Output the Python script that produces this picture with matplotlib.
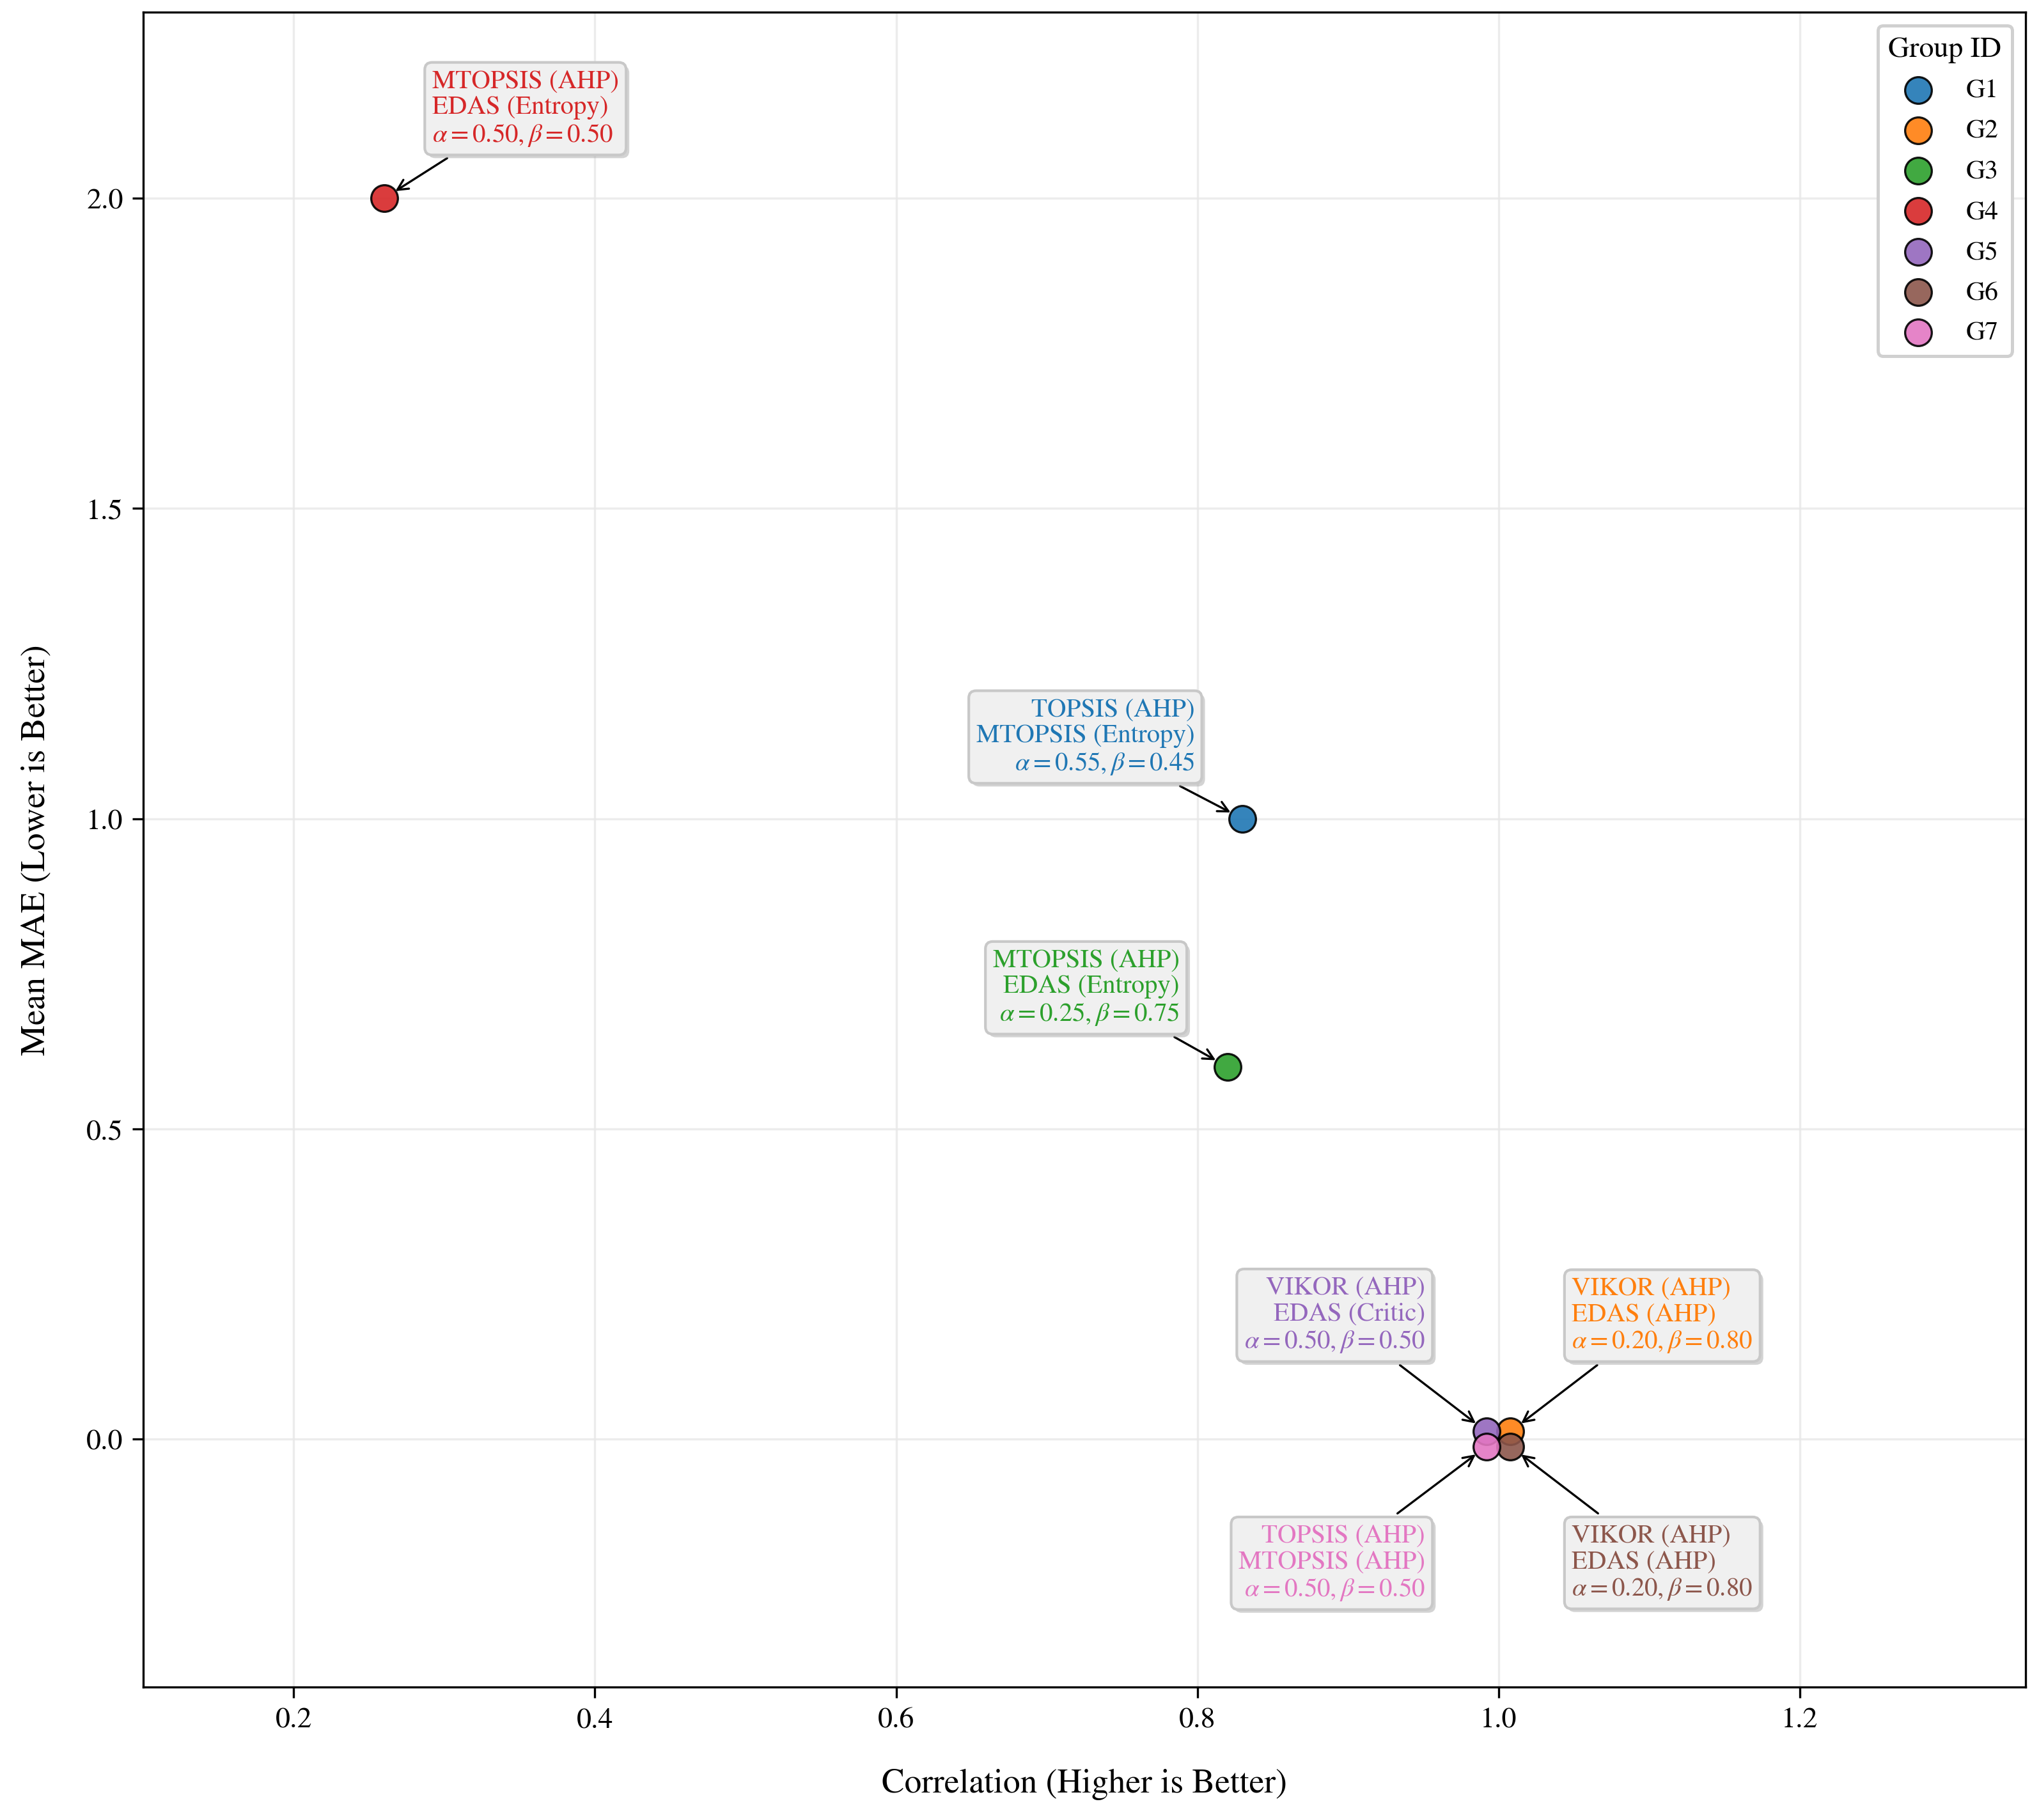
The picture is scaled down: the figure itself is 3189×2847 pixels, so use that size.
import matplotlib
matplotlib.use("Agg")
import matplotlib.pyplot as plt
import matplotlib.patheffects as pe

plt.rcParams['font.family'] = ['STIXGeneral', 'Liberation Serif', 'DejaVu Serif']
plt.rcParams['mathtext.fontset'] = 'stix'

# ---- data ----
groups = ['G1', 'G2', 'G3', 'G4', 'G5', 'G6', 'G7']
correlation = [0.83, 1.008, 0.82, 0.26, 0.992, 1.008, 0.992]
mean_mae = [1.0, 0.012, 0.60, 2.0, 0.012, -0.012, -0.012]
method_a = ['TOPSIS (AHP)', 'VIKOR (AHP)', 'MTOPSIS (AHP)', 'MTOPSIS (AHP)',
            'VIKOR (AHP)', 'VIKOR (AHP)', 'TOPSIS (AHP)']
method_b = ['MTOPSIS (Entropy)', 'EDAS (AHP)', 'EDAS (Entropy)', 'EDAS (Entropy)',
            'EDAS (Critic)', 'EDAS (AHP)', 'MTOPSIS (AHP)']
alphas = [0.55, 0.20, 0.25, 0.50, 0.50, 0.20, 0.50]
betas = [0.45, 0.80, 0.75, 0.50, 0.50, 0.80, 0.50]
xticks = [0.2, 0.4, 0.6, 0.8, 1.0, 1.2]
yticks = [0.0, 0.5, 1.0, 1.5, 2.0]

colors = ['#1f77b4', '#ff7f0e', '#2ca02c', '#d62728', '#9467bd', '#8c564b', '#e377c2']
# label offsets in points
offsets = [(-18, 16), (23, 29), (-18, 15), (18, 19), (-23, 29), (23, -29), (-23, -29)]

fig = plt.figure(figsize=(10.633, 9.493), dpi=300)
ax = fig.add_axes([0.0702, 0.073, 0.9229, 0.920])

for i, g in enumerate(groups):
    ax.scatter(correlation[i], mean_mae[i], s=100, color=colors[i], alpha=0.9,
               edgecolor='black', linewidth=0.8, label=g, zorder=3)

for i, g in enumerate(groups):
    dx, dy = offsets[i]
    ha = 'left' if dx > 0 else 'right'
    va = 'bottom' if dy > 0 else 'top'
    txt = f"{method_a[i]}\n{method_b[i]}\n" + \
        rf"$\alpha={alphas[i]:.2f}, \beta={betas[i]:.2f}$"
    ann = ax.annotate(txt, xy=(correlation[i], mean_mae[i]), xytext=(dx, dy),
                      textcoords='offset points', ha=ha, va=va, multialignment=ha,
                      fontsize=9.8, linespacing=1.12, color=colors[i], zorder=4,
                      bbox=dict(boxstyle='round,pad=0.28', facecolor='#f0f0f0',
                                edgecolor='#c8c8c8', linewidth=1.0),
                      arrowprops=dict(arrowstyle='->', color='black', lw=0.8,
                                      shrinkA=2, shrinkB=5))
    ann.get_bbox_patch().set_path_effects([
        pe.SimplePatchShadow(offset=(1.2, -1.2), shadow_rgbFace='#a8a8a8', alpha=0.5),
        pe.Normal()])

ax.set_xlim(0.1, 1.35)
ax.set_ylim(-0.4, 2.3)
ax.set_xticks(xticks)
ax.set_yticks(yticks)
ax.tick_params(labelsize=11, length=4, width=0.8)
ax.grid(True, color='#e8e8e8', linewidth=0.8, alpha=0.8, zorder=0)
ax.set_axisbelow(True)
for sp in ax.spines.values():
    sp.set_linewidth(0.8)

ax.set_xlabel('Correlation (Higher is Better)', fontsize=12.8, labelpad=13)
ax.set_ylabel('Mean MAE (Lower is Better)', fontsize=13, labelpad=13)

leg = ax.legend(title='Group ID', loc='upper right', fontsize=10, title_fontsize=11,
                frameon=True, fancybox=True, edgecolor='#d0d0d0', framealpha=1.0,
                labelspacing=0.6)
leg.get_frame().set_linewidth(1.2)

fig.savefig('out.png', dpi=300)
